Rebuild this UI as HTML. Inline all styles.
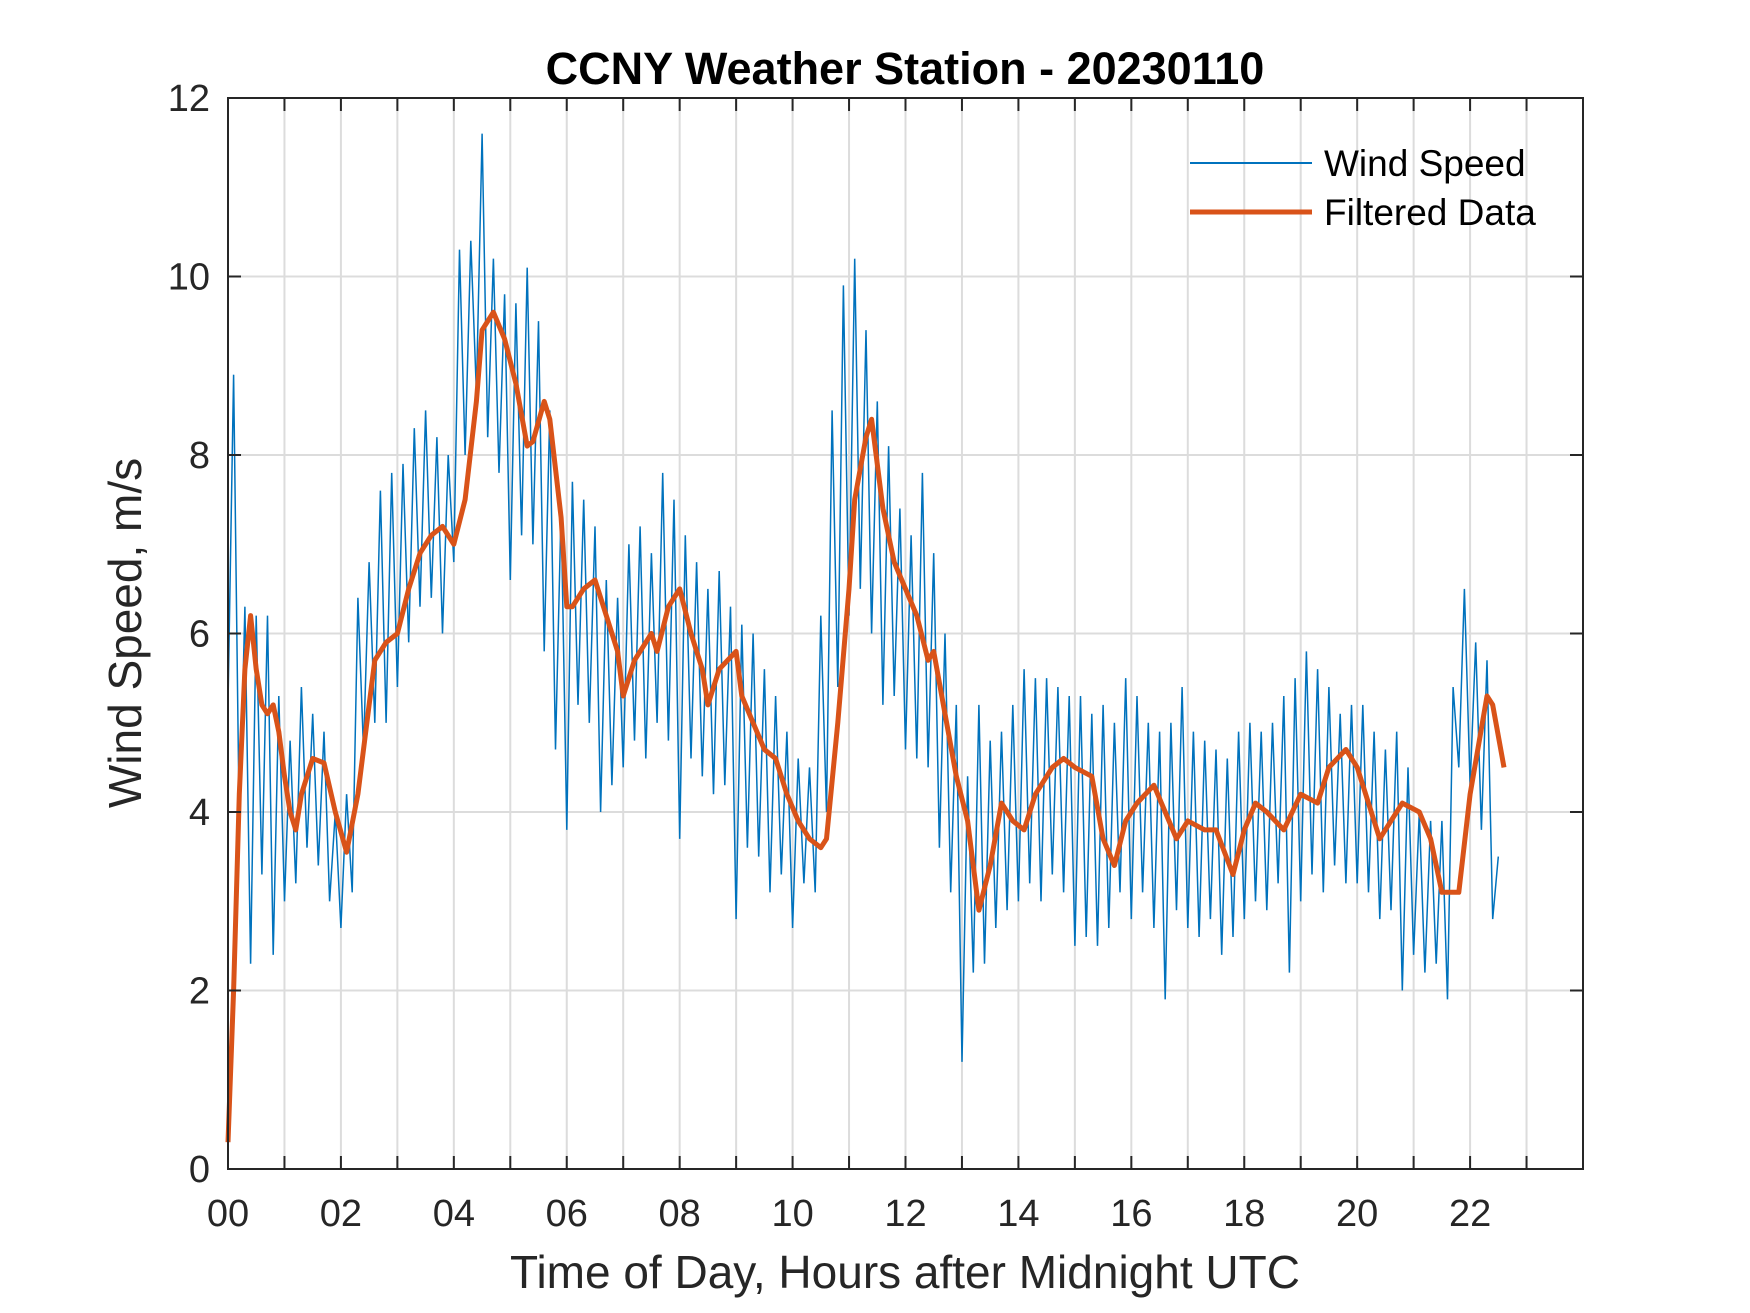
<!DOCTYPE html>
<html><head><meta charset="utf-8"><style>
body{margin:0;background:#fff}
svg{display:block;font-family:"Liberation Sans",Arial,sans-serif}
</style></head><body>
<svg id="chart" width="1750" height="1313" viewBox="0 0 1750 1313">
<rect width="1750" height="1313" fill="#fff"/>
<g id="grid"></g>
<g id="series"></g>
<g id="axes"></g>
<text x="905" y="84" text-anchor="middle" font-size="45" font-weight="bold" fill="#000">CCNY Weather Station - 20230110</text>
<text x="905" y="1288" text-anchor="middle" font-size="46" fill="#262626">Time of Day, Hours after Midnight UTC</text>
<text transform="translate(141,633) rotate(-90)" text-anchor="middle" font-size="46" fill="#262626">Wind Speed, m/s</text>
<g>
<line x1="1190" y1="163" x2="1312" y2="163" stroke="#0072BD" stroke-width="2"/>
<text x="1324" y="176" font-size="37" fill="#000">Wind Speed</text>
<line x1="1190" y1="212" x2="1312" y2="212" stroke="#D95319" stroke-width="5"/>
<text x="1324" y="225" font-size="37" fill="#000">Filtered Data</text>
</g>
</svg>
<script>
const windStart = 0, windStep = 0.1;
const windValues = [
5.2,8.9,3.8,6.3,2.3,6.2,3.3,6.2,2.4,5.3,
3.0,4.8,3.2,5.4,3.6,5.1,3.4,4.9,3.0,4.0,
2.7,4.2,3.1,6.4,4.7,6.8,5.0,7.6,5.0,7.8,
5.4,7.9,5.9,8.3,6.3,8.5,6.4,8.2,6.0,8.0,
6.8,10.3,8.0,10.4,8.7,11.6,8.2,10.2,7.8,9.8,
6.6,9.7,7.1,10.1,7.0,9.5,5.8,8.5,4.7,7.4,
3.8,7.7,5.2,7.5,5.0,7.2,4.0,6.6,4.3,6.4,
4.5,7.0,4.8,7.2,4.6,6.9,5.0,7.8,4.8,7.5,
3.7,7.1,4.6,6.8,4.4,6.5,4.2,6.7,4.3,6.3,
2.8,6.1,3.6,6.0,3.5,5.6,3.1,5.3,3.3,4.9,
2.7,4.6,3.2,4.5,3.1,6.2,4.0,8.5,5.4,9.9,
6.2,10.2,6.5,9.4,6.0,8.6,5.2,8.1,5.3,7.4,
4.7,7.1,4.6,7.8,4.5,6.9,3.6,6.0,3.1,5.2,
1.2,4.4,2.2,5.2,2.3,4.8,2.7,4.9,2.9,5.2,
3.0,5.6,3.2,5.5,3.0,5.5,3.3,5.4,3.1,5.3,
2.5,5.3,2.6,5.1,2.5,5.2,2.7,5.0,3.1,5.5,
2.8,5.3,3.1,5.0,2.7,4.9,1.9,5.0,2.9,5.4,
2.7,4.9,2.6,4.8,2.8,4.7,2.4,4.6,2.6,4.9,
2.8,5.0,3.0,4.9,2.9,5.0,3.2,5.3,2.2,5.5,
3.0,5.8,3.3,5.6,3.1,5.4,3.4,5.1,3.2,5.2,
3.2,5.2,3.1,4.9,2.8,4.7,2.9,4.9,2.0,4.5,
2.4,4.0,2.2,3.9,2.3,3.9,1.9,5.4,4.5,6.5,
4.3,5.9,3.8,5.7,2.8,3.5];
const filtHours = [0,0.1,0.2,0.3,0.4,0.5,0.6,0.7,0.8,0.9,1.0,1.1,1.2,1.3,1.5,1.7,1.9,2.1,2.3,2.5,2.6,2.8,3.0,3.2,3.4,3.6,3.8,4.0,4.2,4.4,4.5,4.7,4.9,5.1,5.3,5.4,5.6,5.7,5.9,6.0,6.1,6.3,6.5,6.7,6.9,7.0,7.2,7.4,7.5,7.6,7.8,8.0,8.2,8.4,8.5,8.7,9.0,9.1,9.3,9.5,9.7,9.9,10.1,10.3,10.5,10.6,10.8,11.0,11.1,11.3,11.4,11.6,11.8,12.0,12.2,12.4,12.5,12.7,12.9,13.1,13.3,13.5,13.7,13.9,14.1,14.3,14.6,14.8,15.0,15.3,15.5,15.7,15.9,16.1,16.4,16.6,16.8,17.0,17.3,17.5,17.8,18.0,18.2,18.4,18.7,19.0,19.3,19.5,19.8,20.0,20.2,20.4,20.6,20.8,21.1,21.3,21.5,21.8,22.0,22.3,22.4,22.6];
const filtValues = [0.3,2,4.2,5.6,6.2,5.6,5.2,5.1,5.2,4.9,4.4,4.0,3.8,4.2,4.6,4.55,4.0,3.55,4.2,5.2,5.7,5.9,6.0,6.5,6.9,7.1,7.2,7.0,7.5,8.6,9.4,9.6,9.3,8.8,8.1,8.15,8.6,8.4,7.3,6.3,6.3,6.5,6.6,6.2,5.8,5.3,5.7,5.9,6.0,5.8,6.3,6.5,6.0,5.6,5.2,5.6,5.8,5.3,5.0,4.7,4.6,4.2,3.9,3.7,3.6,3.7,5.0,6.5,7.5,8.2,8.4,7.4,6.8,6.5,6.2,5.7,5.8,5.1,4.4,3.9,2.9,3.4,4.1,3.9,3.8,4.2,4.5,4.6,4.5,4.4,3.7,3.4,3.9,4.1,4.3,4.0,3.7,3.9,3.8,3.8,3.3,3.8,4.1,4.0,3.8,4.2,4.1,4.5,4.7,4.5,4.1,3.7,3.9,4.1,4.0,3.7,3.1,3.1,4.2,5.3,5.2,4.5];
const xTickLabels = ["00","02","04","06","08","10","12","14","16","18","20","22"];
const yTickLabels = ["0","2","4","6","8","10","12"];

const L=228,R=1583,T=98,B=1169, XMAX=24, YMAX=12;
const X=h=>L+(R-L)*h/XMAX, Y=v=>B-(B-T)*v/YMAX;
const NS="http://www.w3.org/2000/svg";
function mk(tag,attrs,parent){const e=document.createElementNS(NS,tag);for(const k in attrs)e.setAttribute(k,attrs[k]);parent.appendChild(e);return e;}
const grid=document.getElementById('grid'),axes=document.getElementById('axes'),series=document.getElementById('series');
for(let h=1;h<XMAX;h++){const g=mk('line',{x1:X(h),x2:X(h),y1:T,y2:B,stroke:'#dcdcdc','stroke-width':2},grid);

}
for(let i=1;i<yTickLabels.length-1;i++){const v=+yTickLabels[i];const g=mk('line',{x1:L,x2:R,y1:Y(v),y2:Y(v),stroke:'#dcdcdc','stroke-width':2},grid);

}
let wp=windValues.map((v,i)=>X(windStart+i*windStep).toFixed(1)+','+Y(v).toFixed(1)).join(' ');
const w=mk('polyline',{points:wp,fill:'none',stroke:'#0072BD','stroke-width':1.5,'stroke-linejoin':'miter'},series);


let fp=filtValues.map((v,i)=>X(filtHours[i]).toFixed(1)+','+Y(v).toFixed(1)).join(' ');
const f=mk('polyline',{points:fp,fill:'none',stroke:'#D95319','stroke-width':5,'stroke-linejoin':'round'},series);


const box=mk('rect',{x:L,y:T,width:R-L,height:B-T,fill:'none',stroke:'#262626','stroke-width':2},axes);


for(let h=0;h<=XMAX;h++){mk('line',{x1:X(h),x2:X(h),y1:B,y2:B-13,stroke:'#262626','stroke-width':2},axes);mk('line',{x1:X(h),x2:X(h),y1:T,y2:T+13,stroke:'#262626','stroke-width':2},axes);}
xTickLabels.forEach((s,i)=>{const t=mk('text',{x:X(+s),y:B+57,'text-anchor':'middle','font-size':38,fill:'#262626'},axes);t.textContent=s;

});
yTickLabels.forEach(s=>{const v=+s;mk('line',{x1:L,x2:L+13,y1:Y(v),y2:Y(v),stroke:'#262626','stroke-width':2},axes);mk('line',{x1:R,x2:R-13,y1:Y(v),y2:Y(v),stroke:'#262626','stroke-width':2},axes);
const t=mk('text',{x:210,y:Y(v)+13,'text-anchor':'end','font-size':38,fill:'#262626'},axes);t.textContent=s;

});
</script>
</body></html>
